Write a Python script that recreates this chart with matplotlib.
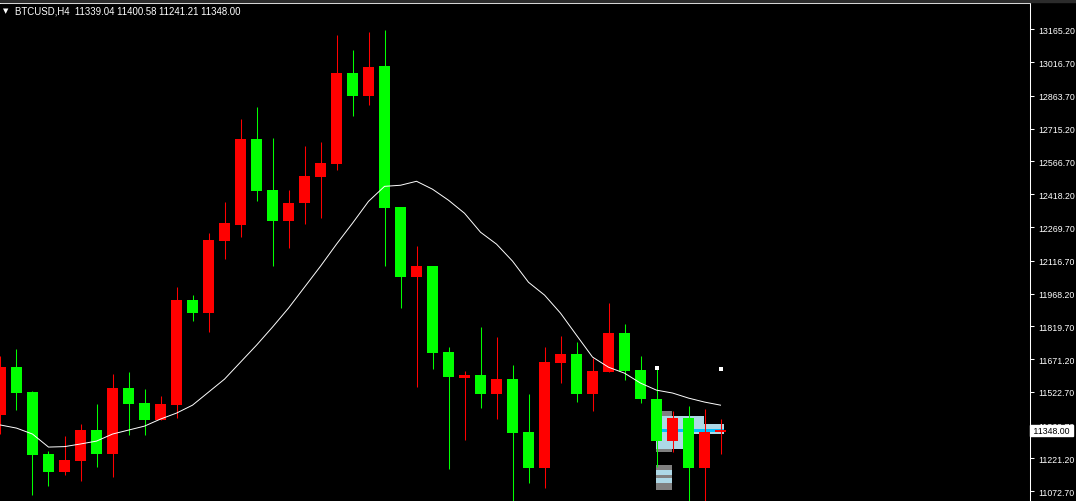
import matplotlib.pyplot as plt
from matplotlib.patches import Rectangle

# candle data (BTCUSD H4)
opens = [11417, 11634, 11521, 11240, 11160, 11210, 11349, 11240, 11539, 11471,
         11396, 11462, 11938, 11879, 12205, 12278, 12667, 12436, 12296, 12377,
         12495, 12554, 12966, 12862, 12998, 12359, 12042, 12092, 11702, 11585,
         11598, 11512, 11580, 11340, 11177, 11653, 11693, 11512, 11612, 11788,
         11621, 11490, 11299, 11403, 11177, 11339.04]
highs = [11684, 11716, 11526, 11254, 11322, 11376, 11467, 11603, 11612, 11535,
         11503, 11997, 11961, 12241, 12382, 12758, 12812, 12672, 12436, 12635,
         12653, 13138, 13070, 13152, 13165, 12359, 12182, 12092, 11725, 11616,
         11816, 11770, 11644, 11512, 11725, 11775, 11748, 11675, 11924, 11829,
         11684, 11630, 11435, 11458, 11444, 11400.58]
lows = [11331, 11441, 11056, 11097, 11147, 11119, 11183, 11138, 11326, 11326,
        11394, 11403, 11843, 11793, 12124, 12223, 12386, 12092, 12173, 12282,
        12309, 12527, 12771, 12821, 12092, 11902, 11544, 11625, 11172, 11304,
        11449, 11399, 11014, 11109, 11086, 11562, 11476, 11435, 11612, 11576,
        11471, 11182, 11249, 11014, 11014, 11241.21]
closes = [11636, 11518, 11237, 11160, 11213, 11349, 11240, 11539, 11467, 11396,
          11467, 11938, 11879, 12210, 12287, 12667, 12432, 12296, 12377, 12499,
          12558, 12966, 12862, 12993, 12355, 12042, 12092, 11698, 11589, 11598,
          11512, 11580, 11336, 11177, 11657, 11693, 11512, 11616, 11788, 11616,
          11490, 11299, 11403, 11177, 11340, 11348.00]

# moving average line
ma = [11372, 11358, 11331, 11272, 11274, 11286, 11299, 11331, 11349, 11367,
      11399, 11426, 11462, 11521, 11580, 11657, 11734, 11816, 11902, 11997,
      12092, 12192, 12287, 12386, 12454, 12459, 12477, 12441, 12391, 12332,
      12246, 12192, 12115, 12019, 11961, 11879, 11779, 11680, 11634, 11607,
      11562, 11530, 11517, 11494, 11476, 11462]

# price scale labels
tick_vals = [13165.20, 13016.70, 12863.70, 12715.20, 12566.70, 12418.20, 12269.70,
             12116.70, 11968.20, 11819.70, 11671.20, 11522.70, 11369.70, 11221.20,
             11072.70]

# small white objects on the chart
dot_x = [41, 45]
dot_y = [11630, 11625]

# profile boxes in the lower right (x from, x to, price low, price high, colour)
box_x0 = [40.97, 40.97, 40.97, 43.97, 40.97, 40.97, 40.97, 40.97, 40.97, 40.97, 40.97, 40.97, 40.97]
box_x1 = [41.97, 43.97, 42.66, 45.22, 45.22, 43.97, 42.66, 41.97, 41.97, 41.97, 41.97, 41.97, 41.97]
box_lo = [11412, 11331, 11263, 11331, 11340, 11366, 11312, 11249, 11168, 11145, 11132, 11109, 11077]
box_hi = [11435, 11412, 11331, 11376, 11354, 11368, 11314, 11263, 11191, 11168, 11145, 11132, 11109]
box_col = ['#808080', '#add8e6', '#add8e6', '#add8e6', '#00bfff', 'black', 'black',
           '#808080', '#808080', '#add8e6', '#808080', '#add8e6', '#808080']

W, H = 1076, 502
fig = plt.figure(figsize=(W / 100, H / 100), dpi=100, facecolor='black')
# gray strip at the very top
fig.patches.append(Rectangle((0, 1 - 3 / H), 1, 3 / H, transform=fig.transFigure,
                             color='#2b2b2b', zorder=0))

ax = fig.add_axes([0, 0, 1030 / W, (H - 3.5) / H])
ax.set_facecolor('black')

x = list(range(len(opens)))

# profile boxes behind the candles
for x0, x1, lo, hi, c in zip(box_x0, box_x1, box_lo, box_hi, box_col):
    ax.add_patch(Rectangle((x0, lo), x1 - x0, hi - lo, color=c, lw=0, zorder=1))

colors = ['#ff0000' if c > o else '#00ff00' for o, c in zip(opens, closes)]

# wicks
ax.vlines(x, lows, highs, colors=colors, linewidth=0.75, zorder=2)
# bodies
ax.bar(x, [abs(c - o) for o, c in zip(opens, closes)],
       bottom=[min(o, c) for o, c in zip(opens, closes)],
       width=11 / 16, color=colors, linewidth=0, zorder=3)

# moving average
ax.plot(x, ma, color='white', linewidth=0.7, zorder=4)

ax.plot(dot_x, dot_y, 's', color='white', markersize=3, markeredgewidth=0, zorder=5)

ax.set_xlim(-0.031, 64.34)
ax.set_ylim(11027.5, 13287.5)

for s in ['left', 'bottom']:
    ax.spines[s].set_visible(False)
for s in ['top', 'right']:
    ax.spines[s].set_color('white')
    ax.spines[s].set_linewidth(0.75)

ax.set_xticks([])
ax.yaxis.tick_right()
ax.set_yticks(tick_vals)
ax.set_yticklabels(['%.2f' % v for v in tick_vals])
ax.tick_params(axis='y', colors='white', length=3, width=0.75, pad=3,
               labelsize=6.3, labelfontfamily='Liberation Sans')

# current price label
ax.text(1 + 1 / 1030, closes[-1], ' %.2f ' % closes[-1], transform=ax.get_yaxis_transform(),
        ha='left', va='center', fontsize=6.3, family='Liberation Sans', color='black',
        bbox=dict(boxstyle='square,pad=0.12', fc='white', ec='white'), clip_on=False, zorder=10)

# title
fig.text(3 / W, 1 - 11 / H, '▼', color='white', fontsize=5, va='center', ha='left')
fig.text(15 / W, 1 - 11 / H, 'BTCUSD,H4  %.2f %.2f %.2f %.2f' % (opens[-1], highs[-1], lows[-1], closes[-1]),
         color='white', fontsize=6.9, family='Liberation Sans', va='center', ha='left')

plt.savefig('out.png', dpi=100, facecolor='black')
